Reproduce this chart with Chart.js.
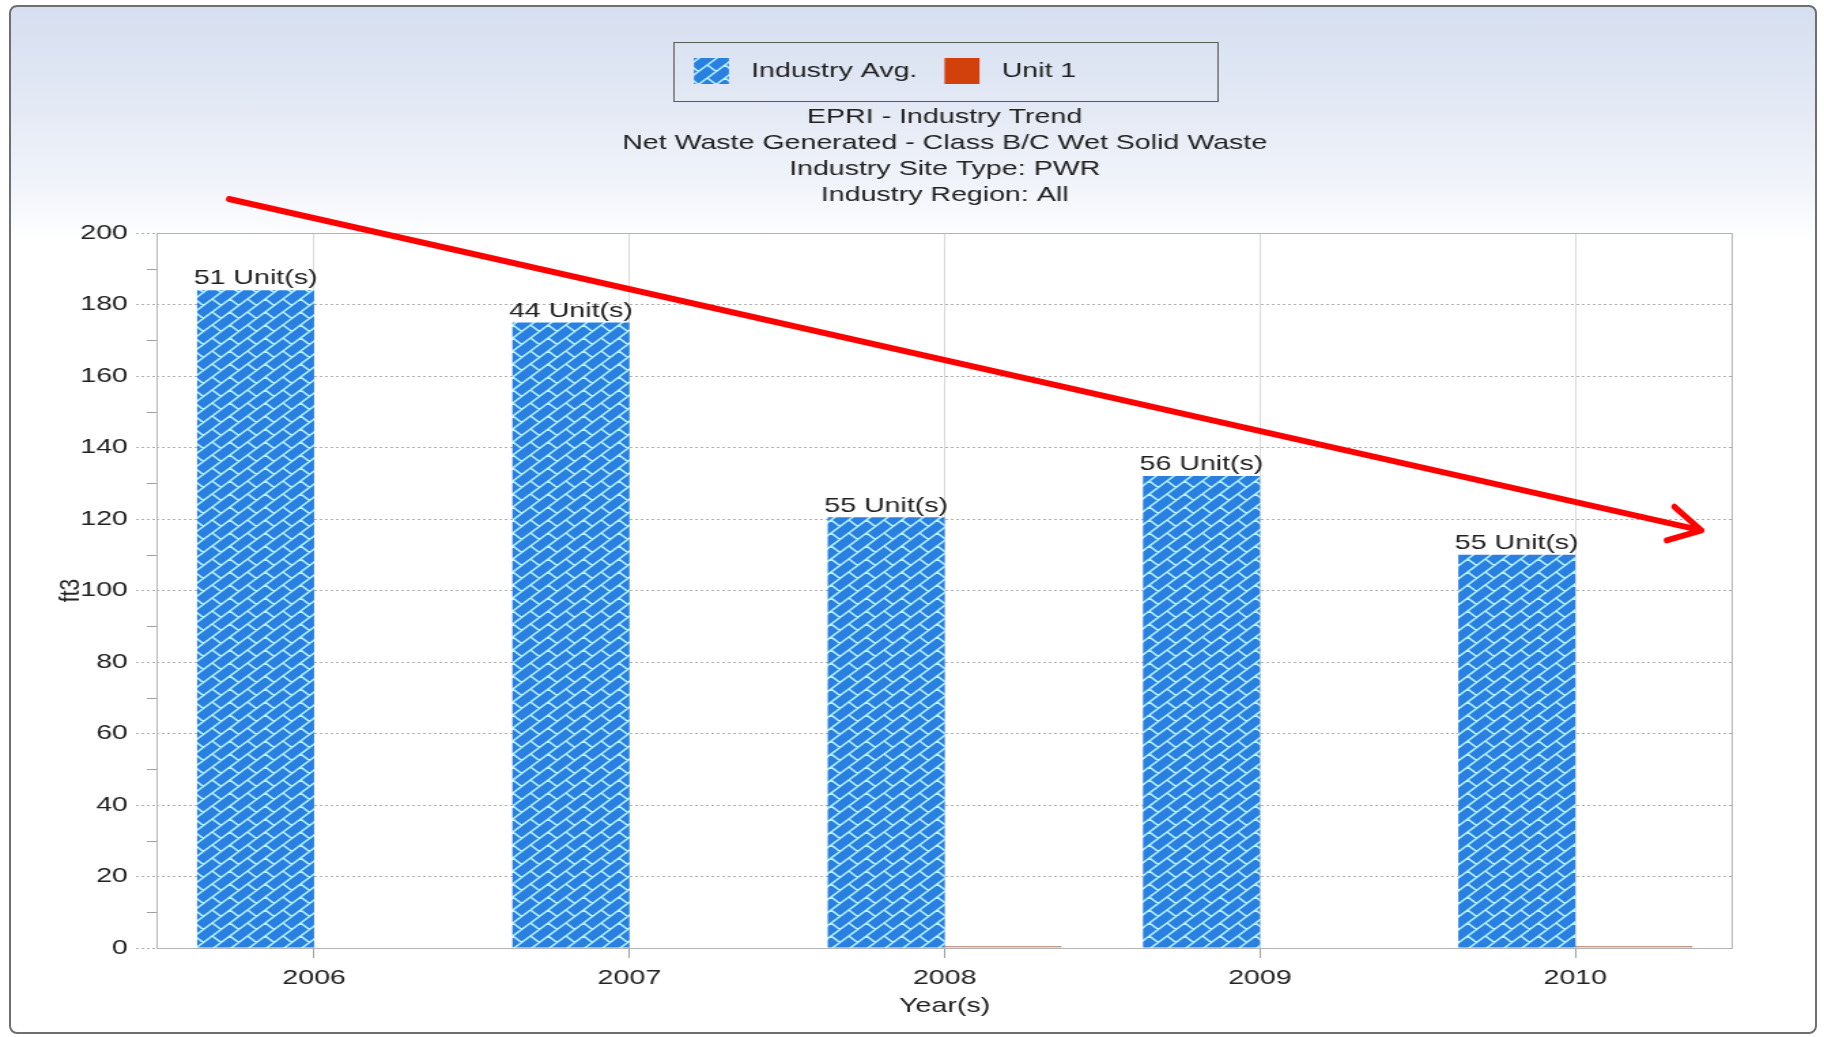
<!DOCTYPE html>
<html>
<head>
<meta charset="utf-8">
<title>EPRI - Industry Trend</title>
<script src="https://cdn.jsdelivr.net/npm/chart.js@4.4.0/dist/chart.umd.min.js"></script>
<style>
  html, body { margin: 0; padding: 0; background: #fff; }
  body { width: 1824px; height: 1037px; position: relative; overflow: hidden; }
  #frame {
    position: absolute; left: 9px; top: 5px; width: 1808px; height: 1029px;
    box-sizing: border-box; border: 2px solid #6f6f6f; border-radius: 8px;
    background: linear-gradient(to bottom, #d6dff0 0px, #e2e8f4 90px, #f1f4fa 180px, #fff 235px, #fff 100%);
  }
  /* the source picture is stretched sideways, so the chart is drawn narrow and scaled */
  #wrap {
    position: absolute; left: 0; top: 0; width: 1341px; height: 1037px;
    transform: scaleX(1.3602); transform-origin: 0 0;
  }
</style>
</head>
<body>
<div id="frame"></div>
<div id="wrap"><canvas id="myChart"></canvas></div>
<script>
const years = ['2006', '2007', '2008', '2009', '2010'];
const seriesNames = ['Industry Avg.', 'Unit 1'];
const industryAvg = [184, 175, 120.5, 132, 110];
const unit1 = [null, null, 0.5, null, 0.5];
const unitCounts = [51, 44, 55, 56, 55];
const titleLines = [
  'EPRI - Industry Trend',
  'Net Waste Generated - Class B/C Wet Solid Waste',
  'Industry Site Type: PWR',
  'Industry Region: All'
];
const yMin = 0, yMax = 200, yStep = 20;
// hand drawn trend arrow, in data units (category index, ft3)
const trendFrom = [-0.27, 209.5];
const trendTo = [4.4, 116.8];

const STRETCH = 1.3602;
const FONT = "'Liberation Sans', Arial, sans-serif";

function makeHatch() {
  const sp = 13, t = sp * 2;
  const c = document.createElement('canvas');
  c.width = t; c.height = t;
  const g = c.getContext('2d');
  g.fillStyle = '#2a80e0';
  g.fillRect(0, 0, t, t);
  g.strokeStyle = '#b8f4ff';
  g.lineWidth = 1.5;
  g.beginPath();
  for (let s = -2 * sp; s <= 6 * sp; s += sp) {
    g.moveTo(s + sp, -sp);
    g.lineTo(-sp, s + sp);
  }
  for (let k = -4; k <= 6; k++) {
    const s0 = sp * k, s1 = s0 + sp;
    for (let m = -3; m <= 3; m++) {
      const d = (((k % 2) + 2) % 2) * sp + t * m;
      g.moveTo((s0 + d) / 2, (s0 - d) / 2);
      g.lineTo((s1 + d) / 2, (s1 - d) / 2);
    }
  }
  g.stroke();
  return g.createPattern(c, 'repeat');
}

const chartFrame = {
  id: 'chartFrame',
  beforeDatasetsDraw(chart) {
    const {ctx, chartArea: a, scales: {y}} = chart;
    ctx.save();
    ctx.strokeStyle = '#b4b4b4';
    ctx.lineWidth = 1;
    ctx.strokeRect(a.left + 0.5, a.top + 0.5, a.right - a.left - 1, a.bottom - a.top);
    // minor ticks between the labelled values
    ctx.strokeStyle = '#a0a0a0';
    ctx.beginPath();
    for (let v = yMin + yStep / 2; v < yMax; v += yStep) {
      const py = Math.round(y.getPixelForValue(v)) + 0.5;
      ctx.moveTo(a.left - 7, py);
      ctx.lineTo(a.left, py);
    }
    ctx.stroke();
    ctx.restore();
  }
};

const legendFrame = {
  id: 'legendFrame',
  afterDraw(chart) {
    const boxes = chart.legend.legendHitBoxes;
    if (!boxes || !boxes.length) return;
    const {ctx, chartArea: a} = chart;
    const mid = (a.left + a.right) / 2;
    const left = boxes[0].left - 15.5;
    const right = 2 * mid - left;
    const top = boxes[0].top - 16;
    const bottom = boxes[0].top + boxes[0].height + 17;
    ctx.save();
    ctx.strokeStyle = '#5a5a5a';
    ctx.lineWidth = 1;
    ctx.strokeRect(Math.round(left) + 0.5, Math.round(top) + 0.5, Math.round(right - left), Math.round(bottom - top));
    ctx.restore();
  }
};

const barLabels = {
  id: 'barLabels',
  afterDatasetsDraw(chart) {
    const {ctx} = chart;
    const meta = chart.getDatasetMeta(0);
    ctx.save();
    ctx.font = '21px ' + FONT;
    ctx.fillStyle = '#222';
    ctx.textAlign = 'center';
    ctx.textBaseline = 'bottom';
    meta.data.forEach((bar, i) => {
      ctx.fillText(unitCounts[i] + ' Unit(s)', bar.x, bar.y - 1);
    });
    ctx.restore();
  }
};

const trendArrow = {
  id: 'trendArrow',
  afterDraw(chart) {
    const {ctx, scales: {x, y}} = chart;
    const x0 = x.getPixelForValue(trendFrom[0]) * STRETCH, y0 = y.getPixelForValue(trendFrom[1]);
    const x1 = x.getPixelForValue(trendTo[0]) * STRETCH, y1 = y.getPixelForValue(trendTo[1]);
    const ang = Math.atan2(y1 - y0, x1 - x0);
    const len = 36, spread = 0.5;
    ctx.save();
    ctx.scale(1 / STRETCH, 1);
    ctx.strokeStyle = '#ff0000';
    ctx.lineWidth = 6;
    ctx.lineCap = 'round';
    ctx.lineJoin = 'round';
    ctx.beginPath();
    ctx.moveTo(x0, y0);
    ctx.lineTo(x1, y1);
    ctx.moveTo(x1 - len * Math.cos(ang - spread), y1 - len * Math.sin(ang - spread));
    ctx.lineTo(x1, y1);
    ctx.lineTo(x1 - len * Math.cos(ang + spread), y1 - len * Math.sin(ang + spread));
    ctx.stroke();
    ctx.restore();
  }
};

const data = {
  labels: years,
  datasets: [{
    label: seriesNames[0],
    data: industryAvg,
    backgroundColor: makeHatch(),
    borderWidth: 0,
    categoryPercentage: 0.742,
    barPercentage: 1
  }, {
    label: seriesNames[1],
    data: unit1,
    backgroundColor: '#d2400c',
    borderColor: '#5a2a1a',
    borderWidth: 1,
    categoryPercentage: 0.742,
    barPercentage: 1
  }]
};

const config = {
  type: 'bar',
  data: data,
  options: {
    responsive: true,
    maintainAspectRatio: false,
    animation: false,
    layout: { padding: { top: 38, left: 0, right: 67, bottom: 8 } },
    plugins: {
      tooltip: { enabled: false },
      legend: {
        position: 'top',
        fullSize: false,
        weight: 3000,
        labels: {
          boxWidth: 25.7,
          boxHeight: 26,
          padding: 20,
          color: '#222',
          font: { family: FONT, size: 21 },
          generateLabels(chart) {
            const items = Chart.defaults.plugins.legend.labels.generateLabels(chart);
            items.forEach((it, i) => {
              it.text = ' ' + it.text + (i === items.length - 1 ? ' '.repeat(15) : '');
              it.lineWidth = 0;
            });
            return items;
          }
        }
      },
      title: {
        display: true,
        text: titleLines,
        fullSize: false,
        color: '#222',
        font: { family: FONT, size: 21, weight: 'normal', lineHeight: '26px' },
        padding: { top: 10, bottom: 25 }
      }
    },
    scales: {
      x: {
        grid: { offset: false, color: '#dadada', tickLength: 10, tickColor: '#a0a0a0' },
        border: { display: false },
        ticks: { color: '#222', font: { family: FONT, size: 21 }, padding: 8, maxRotation: 0 },
        title: { display: true, text: 'Year(s)', color: '#222', font: { family: FONT, size: 21 }, padding: 10 },
        afterFit(s) { s.height = 81; }
      },
      y: {
        min: yMin,
        max: yMax,
        ticks: { stepSize: yStep, color: '#222', font: { family: FONT, size: 21 }, padding: 6 },
        grid: { color: '#b0b0b0', tickLength: 15, tickBorderDash: [2, 2] },
        border: { display: false, dash: [2, 2] },
        title: { display: true, text: 'ft3', color: '#222', font: { family: FONT, size: 21 }, padding: 40 },
        afterFit(s) { s.width = 115; }
      }
    }
  },
  plugins: [chartFrame, legendFrame, barLabels, trendArrow]
};

const myChart = new Chart(document.getElementById('myChart'), config);
</script>
</body>
</html>
